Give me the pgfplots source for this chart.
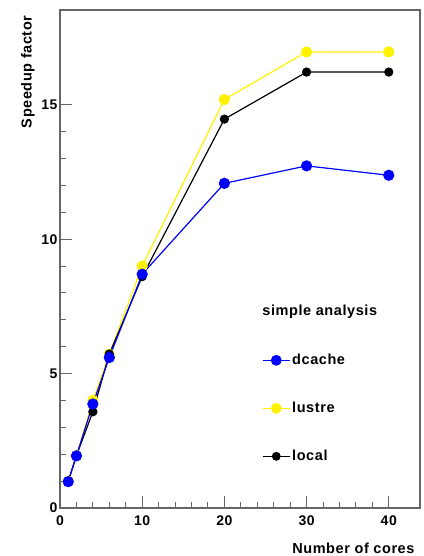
\documentclass[border=0pt]{standalone}
\usepackage{fontspec}
\setmainfont{Liberation Sans}[LetterSpace=4]
\usepackage{pgfplots}
\pgfplotsset{compat=1.18}
\begin{document}
\begin{tikzpicture}[x=1pt,y=1pt]
\path[use as bounding box] (-60,-48) rectangle (363,508);
\begin{axis}[
  at={(0,0)}, anchor=south west,
  scale only axis, width=360pt, height=498pt,
  xmin=0, xmax=43.8, ymin=0, ymax=18.53,
  xtick={0,10,20,30,40}, ytick={0,5,10,15},
  minor x tick num=4, minor y tick num=4,
  xtick pos=left, ytick pos=left,
  tick align=inside,
  major tick length=12pt, minor tick length=6pt,
  tick style={black!60, line width=1pt},
  axis line style={black!60, line width=1.5pt},
  /pgf/number format/assume math mode=true,
  ticklabel style={font=\fontsize{14}{16}\selectfont\bfseries},
  xticklabel style={yshift=-4pt},
  yticklabel style={xshift=1pt},
  xlabel={Number of cores}, ylabel={Speedup factor},
  label style={font=\fontsize{14.5}{16}\selectfont\bfseries},
  xlabel style={at={(rel axis cs:1,0)}, anchor=east, yshift=-40pt, xshift=-2pt},
  ylabel style={at={(rel axis cs:0,1)}, anchor=east, rotate=0, yshift=32pt, xshift=-2pt},
  legend style={at={(axis cs:24.6,5.8)}, anchor=north west, draw=none, fill=none,
    font=\fontsize{14.5}{16}\selectfont\bfseries, row sep=32pt, inner sep=0pt,
    /tikz/every even column/.append style={column sep=6pt}},
  legend cell align=left,
  legend image code/.code={\draw[mark repeat=2,mark phase=2] plot coordinates {(0pt,0pt)(13.5pt,0pt)(27pt,0pt)};},
  clip=false,
]
\addplot[forget plot, yellow, line width=1.2pt, mark=*, mark size=5pt, mark options={fill=yellow}]
 coordinates {(1,1.0)(2,1.95)(4,4.0)(6,5.72)(10,9.0)(20,15.2)(30,16.97)(40,16.97)};
\addplot[forget plot, black, line width=1.2pt, mark=*, mark size=4pt, mark options={fill=black}]
 coordinates {(1,1.0)(2,1.95)(4,3.58)(6,5.73)(10,8.61)(20,14.47)(30,16.22)(40,16.22)};
\addplot[forget plot, blue, line width=1.2pt, mark=*, mark size=5pt, mark options={fill=blue}]
 coordinates {(1,0.98)(2,1.94)(4,3.87)(6,5.6)(10,8.7)(20,12.08)(30,12.73)(40,12.38)};
\addlegendimage{blue, line width=0.8pt, mark=*, mark size=5pt, mark options={fill=blue}}
\addlegendentry{dcache}
\addlegendimage{yellow, line width=0.8pt, mark=*, mark size=5pt, mark options={fill=yellow}}
\addlegendentry{lustre}
\addlegendimage{black, line width=0.8pt, mark=*, mark size=4pt, mark options={fill=black}}
\addlegendentry{local}
\node[anchor=west, font=\fontsize{14.5}{16}\selectfont\bfseries, inner sep=0pt] at (axis cs:24.6,7.3) {simple analysis};
\draw[black!60, line width=1.5pt] (rel axis cs:0,1) -- (rel axis cs:1,1) -- (rel axis cs:1,0);
\end{axis}
\end{tikzpicture}
\end{document}
